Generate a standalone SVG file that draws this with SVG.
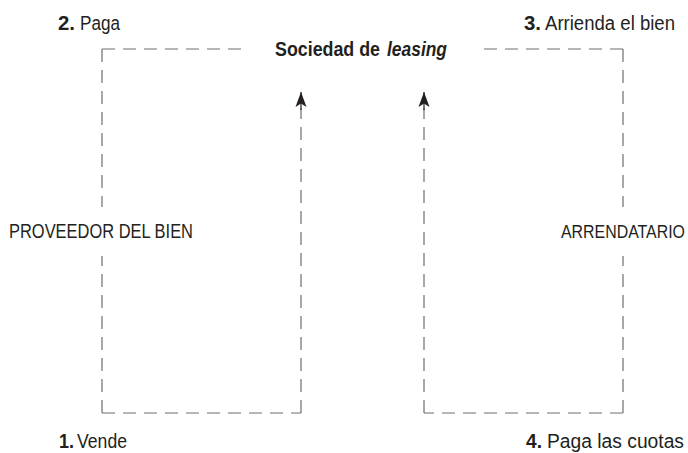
<svg xmlns="http://www.w3.org/2000/svg" width="688" height="453" viewBox="0 0 688 453">
<defs>
<style>
text{font-family:"Liberation Sans",Arial,sans-serif;font-size:20px;fill:#231f20}
.b{font-weight:bold}
.i{font-style:italic}
.e{text-anchor:end}
.d{fill:none;stroke:#6d6e71;stroke-width:1.2;stroke-dasharray:13 8}
.s{fill:none;stroke:#231f20;stroke-width:1.2}
</style>
<marker id="ah" markerUnits="userSpaceOnUse" markerWidth="18" markerHeight="14" viewBox="-16 -7 18 14" refX="0" refY="0" orient="auto">
<path d="M0,0 L-15,-5.5 L-11.5,0 L-15,5.5 Z" fill="#231f20"/>
</marker>
</defs>
<rect width="688" height="453" fill="#fff"/>
<g id="connectors">
<path class="d" d="M102,49 H242"/>
<path class="d" d="M102,49 V207"/>
<path class="d" d="M102,413 V256"/>
<path class="d" d="M102,413 H301"/>
<path class="d" d="M301,413 V108"/>
<path class="s" d="M301,110 V92" marker-end="url(#ah)"/>
<path class="d" d="M623,49 H483"/>
<path class="d" d="M623,49 V207"/>
<path class="d" d="M623,413 V256"/>
<path class="d" d="M623,413 H424"/>
<path class="d" d="M424,413 V108"/>
<path class="s" d="M424,110 V92" marker-end="url(#ah)"/>
</g>
<g id="sociedad">
<text x="275" y="56" textLength="105" lengthAdjust="spacingAndGlyphs" class="b">Sociedad de</text>
<text x="387" y="56" textLength="60" lengthAdjust="spacingAndGlyphs" class="b i">leasing</text>
</g>
<g id="proveedor"><text x="9" y="238" textLength="184" lengthAdjust="spacingAndGlyphs">PROVEEDOR DEL BIEN</text></g>
<g id="arrendatario"><text x="561" y="238" textLength="124" lengthAdjust="spacingAndGlyphs" style="font-size:18.5px">ARRENDATARIO</text></g>
<g id="lbl2">
<text x="58" y="30" textLength="17" lengthAdjust="spacingAndGlyphs" class="b">2.</text>
<text x="80" y="30" textLength="40" lengthAdjust="spacingAndGlyphs">Paga</text>
</g>
<g id="lbl3">
<text x="524" y="30" textLength="17" lengthAdjust="spacingAndGlyphs" class="b">3.</text>
<text x="545" y="30" textLength="130" lengthAdjust="spacingAndGlyphs">Arrienda el bien</text>
</g>
<g id="lbl1">
<text x="59" y="448" textLength="15" lengthAdjust="spacingAndGlyphs" class="b">1.</text>
<text x="77" y="448" textLength="50" lengthAdjust="spacingAndGlyphs">Vende</text>
</g>
<g id="lbl4">
<text x="526" y="448" textLength="16" lengthAdjust="spacingAndGlyphs" class="b">4.</text>
<text x="547" y="448" textLength="137" lengthAdjust="spacingAndGlyphs">Paga las cuotas</text>
</g>
</svg>
